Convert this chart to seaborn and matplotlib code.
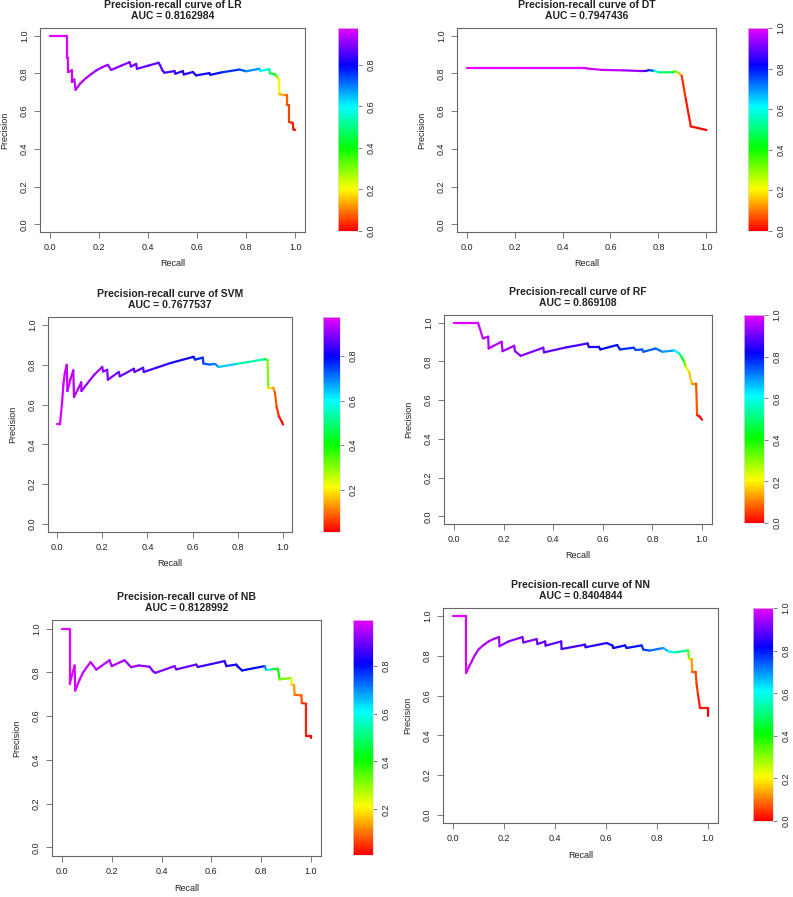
import numpy as np
import matplotlib
matplotlib.use("Agg")
import matplotlib.pyplot as plt
import seaborn as sns
from matplotlib.collections import LineCollection
from matplotlib.colors import ListedColormap, Normalize
from matplotlib.cm import ScalarMappable
from matplotlib.ticker import FormatStrFormatter

sns.set_theme(style="white")
plt.rcParams["font.family"] = ["Liberation Sans", "DejaVu Sans"]

# =====================================
# DATA
# =====================================
lr_recall = [0.000, 0.071, 0.071, 0.075, 0.075, 0.090, 0.090, 0.100, 0.105, 0.125, 0.148, 0.170,
             0.189, 0.210, 0.236, 0.250, 0.290, 0.325, 0.331, 0.352, 0.355, 0.400, 0.443, 0.450,
             0.458, 0.467, 0.508, 0.512, 0.542, 0.546, 0.583, 0.596, 0.650, 0.654, 0.700, 0.773,
             0.800, 0.854, 0.858, 0.895, 0.897, 0.916, 0.925, 0.933, 0.936, 0.957, 0.968, 0.968,
             0.976, 0.976, 0.990, 0.993, 1.000]
lr_precision = [1.000, 1.000, 0.880, 0.880, 0.807, 0.815, 0.754, 0.768, 0.713, 0.748, 0.775, 0.797,
                0.815, 0.830, 0.845, 0.818, 0.840, 0.859, 0.836, 0.850, 0.824, 0.840, 0.856, 0.842,
                0.817, 0.803, 0.812, 0.798, 0.812, 0.794, 0.807, 0.789, 0.801, 0.792, 0.805, 0.820,
                0.811, 0.824, 0.813, 0.822, 0.800, 0.796, 0.783, 0.771, 0.690, 0.683, 0.683, 0.630,
                0.630, 0.542, 0.538, 0.503, 0.500]
lr_cutoff = [0.976, 0.970, 0.965, 0.960, 0.955, 0.950, 0.950, 0.945, 0.940, 0.935, 0.930, 0.925,
             0.920, 0.915, 0.910, 0.905, 0.900, 0.895, 0.890, 0.885, 0.880, 0.875, 0.870, 0.865,
             0.860, 0.850, 0.840, 0.835, 0.830, 0.825, 0.820, 0.810, 0.800, 0.795, 0.780, 0.740,
             0.720, 0.660, 0.630, 0.550, 0.480, 0.420, 0.340, 0.240, 0.160, 0.120, 0.090, 0.070,
             0.060, 0.050, 0.030, 0.010, 0.000]

dt_recall = [0.000, 0.250, 0.498, 0.567, 0.650, 0.727, 0.745, 0.761, 0.782, 0.803, 0.858, 0.872,
             0.886, 0.897, 0.914, 0.935, 1.000]
dt_precision = [0.826, 0.826, 0.826, 0.818, 0.816, 0.812, 0.812, 0.817, 0.813, 0.805, 0.806, 0.811,
                0.800, 0.787, 0.664, 0.519, 0.500]
dt_cutoff = [1.000, 1.000, 0.990, 0.970, 0.960, 0.930, 0.880, 0.800, 0.720, 0.520, 0.450, 0.350,
             0.250, 0.050, 0.030, 0.020, 0.000]

svm_recall = [0.000, 0.013, 0.018, 0.023, 0.028, 0.034, 0.043, 0.046, 0.060, 0.072, 0.075, 0.097,
              0.107, 0.108, 0.133, 0.165, 0.200, 0.204, 0.222, 0.225, 0.273, 0.278, 0.340, 0.343,
              0.381, 0.384, 0.440, 0.500, 0.604, 0.611, 0.645, 0.648, 0.675, 0.700, 0.715, 0.800,
              0.920, 0.932, 0.935, 0.957, 0.964, 0.972, 0.982, 0.994, 1.000]
svm_precision = [0.500, 0.500, 0.560, 0.621, 0.700, 0.755, 0.800, 0.668, 0.730, 0.772, 0.638, 0.688,
                 0.712, 0.668, 0.705, 0.750, 0.789, 0.766, 0.775, 0.725, 0.764, 0.742, 0.780, 0.764,
                 0.785, 0.764, 0.785, 0.808, 0.840, 0.826, 0.836, 0.806, 0.801, 0.804, 0.789, 0.805,
                 0.828, 0.823, 0.685, 0.685, 0.663, 0.588, 0.541, 0.516, 0.500]
svm_cutoff = [0.976, 0.970, 0.965, 0.960, 0.958, 0.955, 0.950, 0.948, 0.945, 0.940, 0.935, 0.930,
              0.928, 0.925, 0.920, 0.915, 0.910, 0.905, 0.900, 0.895, 0.890, 0.885, 0.875, 0.870,
              0.865, 0.860, 0.850, 0.830, 0.790, 0.780, 0.760, 0.740, 0.720, 0.700, 0.680, 0.600,
              0.460, 0.400, 0.220, 0.140, 0.100, 0.070, 0.040, 0.020, 0.010]

rf_recall = [0.000, 0.097, 0.117, 0.138, 0.140, 0.192, 0.196, 0.243, 0.246, 0.269, 0.360, 0.363,
             0.450, 0.539, 0.543, 0.584, 0.590, 0.658, 0.669, 0.725, 0.732, 0.759, 0.763, 0.813,
             0.840, 0.888, 0.908, 0.917, 0.928, 0.935, 0.948, 0.958, 0.976, 0.980, 0.989, 1.000]
rf_precision = [1.000, 1.000, 0.919, 0.928, 0.867, 0.902, 0.853, 0.881, 0.853, 0.829, 0.871, 0.847,
                0.872, 0.893, 0.876, 0.876, 0.862, 0.885, 0.862, 0.871, 0.859, 0.862, 0.850, 0.867,
                0.850, 0.857, 0.841, 0.824, 0.798, 0.772, 0.746, 0.686, 0.686, 0.522, 0.517, 0.499]
rf_cutoff = [1.000, 0.980, 0.970, 0.965, 0.960, 0.950, 0.945, 0.940, 0.935, 0.930, 0.910, 0.905,
             0.880, 0.850, 0.840, 0.830, 0.820, 0.800, 0.790, 0.770, 0.760, 0.750, 0.740, 0.740,
             0.720, 0.660, 0.580, 0.450, 0.380, 0.280, 0.180, 0.140, 0.100, 0.040, 0.020, 0.000]

nb_recall = [0.000, 0.031, 0.031, 0.051, 0.053, 0.070, 0.084, 0.100, 0.115, 0.138, 0.191, 0.200,
             0.251, 0.278, 0.308, 0.352, 0.365, 0.375, 0.452, 0.459, 0.539, 0.546, 0.653, 0.660,
             0.700, 0.704, 0.723, 0.814, 0.820, 0.845, 0.867, 0.874, 0.920, 0.922, 0.932, 0.934,
             0.961, 0.963, 0.981, 0.981, 1.000, 1.000]
nb_precision = [1.000, 1.000, 0.749, 0.832, 0.717, 0.765, 0.798, 0.825, 0.847, 0.813, 0.856, 0.829,
                0.856, 0.824, 0.832, 0.826, 0.806, 0.798, 0.829, 0.814, 0.836, 0.825, 0.852, 0.829,
                0.836, 0.829, 0.809, 0.829, 0.811, 0.815, 0.817, 0.768, 0.775, 0.745, 0.742, 0.698,
                0.695, 0.660, 0.657, 0.507, 0.507, 0.500]
nb_cutoff = [0.990, 0.985, 0.980, 0.975, 0.970, 0.968, 0.965, 0.962, 0.960, 0.955, 0.950, 0.945,
             0.940, 0.930, 0.925, 0.920, 0.915, 0.910, 0.900, 0.895, 0.880, 0.875, 0.840, 0.830,
             0.825, 0.822, 0.820, 0.790, 0.620, 0.500, 0.420, 0.380, 0.260, 0.200, 0.140, 0.120,
             0.090, 0.070, 0.050, 0.030, 0.015, 0.010]

nn_recall = [0.000, 0.051, 0.051, 0.062, 0.073, 0.085, 0.099, 0.118, 0.139, 0.160, 0.180, 0.182,
             0.217, 0.272, 0.276, 0.328, 0.331, 0.361, 0.363, 0.424, 0.426, 0.518, 0.520, 0.603,
             0.625, 0.629, 0.675, 0.681, 0.740, 0.747, 0.772, 0.825, 0.845, 0.871, 0.923, 0.926,
             0.936, 0.939, 0.952, 0.956, 0.962, 0.969, 1.000, 1.000]
nn_precision = [1.000, 1.000, 0.714, 0.745, 0.772, 0.803, 0.831, 0.853, 0.872, 0.885, 0.894, 0.848,
                0.872, 0.894, 0.867, 0.884, 0.859, 0.872, 0.851, 0.872, 0.834, 0.856, 0.843, 0.864,
                0.852, 0.839, 0.852, 0.839, 0.852, 0.831, 0.826, 0.839, 0.822, 0.817, 0.827, 0.784,
                0.784, 0.719, 0.719, 0.658, 0.601, 0.538, 0.538, 0.500]
nn_cutoff = [1.000, 0.990, 0.980, 0.975, 0.970, 0.965, 0.960, 0.955, 0.950, 0.945, 0.940, 0.935,
             0.930, 0.920, 0.915, 0.905, 0.900, 0.895, 0.890, 0.880, 0.875, 0.860, 0.855, 0.830,
             0.820, 0.815, 0.810, 0.805, 0.790, 0.770, 0.750, 0.700, 0.640, 0.600, 0.450, 0.220,
             0.150, 0.100, 0.070, 0.050, 0.040, 0.030, 0.010, 0.000]

models = ["LR", "DT", "SVM", "RF", "NB", "NN"]
auc_values = ["0.8162984", "0.7947436", "0.7677537", "0.869108", "0.8128992", "0.8404844"]

# rainbow red -> violet/magenta, like R's rainbow()
rainbow = ListedColormap(plt.cm.hsv(np.linspace(0, 0.83, 256)))

W, H = 793, 897
TEXT = "#222222"
EDGE = "#666666"


def px_rect(x0, y0, x1, y1):
    return [x0 / W, 1 - y1 / H, (x1 - x0) / W, (y1 - y0) / H]


# =====================================
# ONE PANEL: curve + colour key
# =====================================
def draw_panel(fig, box, cbox, name, auc, recall, precision, cutoff):

    ax = fig.add_axes(px_rect(*box))
    cax = fig.add_axes(px_rect(*cbox))

    cut = np.array(cutoff)
    norm = Normalize(vmin=cut.min(), vmax=cut.max())

    pts = np.column_stack([recall, precision])
    segs = np.stack([pts[:-1], pts[1:]], axis=1)
    lc = LineCollection(segs, cmap=rainbow, norm=norm, linewidth=1.6,
                        capstyle="round", joinstyle="round")
    lc.set_array((cut[:-1] + cut[1:]) / 2)
    ax.add_collection(lc)

    ax.set_xlim(-0.04, 1.04)
    ax.set_ylim(-0.04, 1.04)
    ticks = [0.0, 0.2, 0.4, 0.6, 0.8, 1.0]
    ax.set_xticks(ticks)
    ax.set_yticks(ticks)
    ax.xaxis.set_major_formatter(FormatStrFormatter("%.1f"))
    ax.yaxis.set_major_formatter(FormatStrFormatter("%.1f"))
    ax.tick_params(direction="out", length=4, width=0.6, color=EDGE,
                   labelsize=6.5, labelcolor=TEXT, pad=4,
                   bottom=True, left=True)
    ax.tick_params(axis="y", labelrotation=90)
    for lab in ax.get_yticklabels():
        lab.set_va("center")
    for sp in ax.spines.values():
        sp.set_color(EDGE)
        sp.set_linewidth(0.8)

    h = box[3] - box[1]
    w = box[2] - box[0]
    ax.set_xlabel("Recall", fontsize=6.5, color=TEXT, va="center")
    ax.xaxis.set_label_coords(0.5, -32 / h)
    ax.set_ylabel("Precision", fontsize=6.5, color=TEXT, va="center")
    ax.yaxis.set_label_coords(-35 / w, 0.5)

    ax.set_title(f"Precision-recall curve of {name}\nAUC = {auc}",
                 fontsize=7.5, fontweight="bold", color=TEXT,
                 pad=6.8, linespacing=1.1)

    cb = fig.colorbar(ScalarMappable(norm=norm, cmap=rainbow), cax=cax)
    cb.outline.set_edgecolor("#dddddd")
    cb.outline.set_linewidth(0.5)
    cticks = [t for t in ticks if cut.min() - 1e-9 <= t <= cut.max() + 1e-9]
    cb.set_ticks(cticks)
    cb.ax.yaxis.set_major_formatter(FormatStrFormatter("%.1f"))
    cax.tick_params(direction="out", length=3, width=0.6, color=EDGE,
                    labelsize=6.5, labelcolor=TEXT, pad=3, right=True)
    cax.tick_params(axis="y", labelrotation=90)
    for lab in cax.get_yticklabels():
        lab.set_va("center")
        lab.set_ha("left")


fig = plt.figure(figsize=(W / 100, H / 100), dpi=100)
fig.patch.set_facecolor("white")

draw_panel(fig, (40, 28, 305, 232), (338, 28, 358, 231),
           models[0], auc_values[0], lr_recall, lr_precision, lr_cutoff)
draw_panel(fig, (457, 28, 716, 232), (748, 28, 768, 231),
           models[1], auc_values[1], dt_recall, dt_precision, dt_cutoff)
draw_panel(fig, (48, 317, 292, 532), (323, 317, 340, 532),
           models[2], auc_values[2], svm_recall, svm_precision, svm_cutoff)
draw_panel(fig, (444, 315, 712, 524), (744, 315, 764, 523),
           models[3], auc_values[3], rf_recall, rf_precision, rf_cutoff)
draw_panel(fig, (52, 620, 321, 856), (353, 620, 373, 855),
           models[4], auc_values[4], nb_recall, nb_precision, nb_cutoff)
draw_panel(fig, (443, 608, 718, 823), (753, 608, 773, 821),
           models[5], auc_values[5], nn_recall, nn_precision, nn_cutoff)

fig.savefig("out.png", dpi=100, facecolor="white")
